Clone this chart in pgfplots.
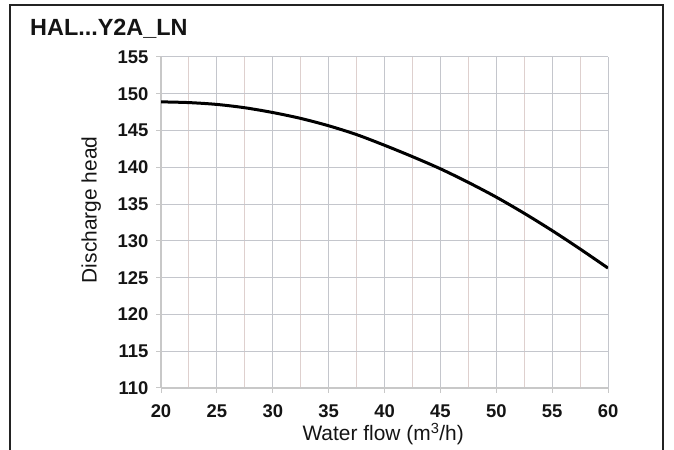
\documentclass[border=0pt]{standalone}
\usepackage{fontspec}
\setmainfont{Liberation Sans}
\usepackage{pgfplots}
\pgfplotsset{compat=1.18}
\definecolor{clrFrame}{RGB}{35,35,35}
\definecolor{clrGridMaj}{RGB}{196,198,204}
\definecolor{clrGridMin}{RGB}{222,208,206}
\definecolor{clrAxisLn}{RGB}{200,200,200}
\definecolor{clrTxt}{RGB}{20,20,20}

\pgfplotstableread{
flow head
20.0 148.9
22.5 148.8
25.0 148.55
27.5 148.1
30.0 147.45
32.5 146.65
35.0 145.65
37.5 144.45
40.0 143.0
42.5 141.45
45.0 139.8
47.5 137.95
50.0 135.95
52.5 133.75
55.0 131.4
57.5 128.9
60.0 126.3
}\curvedata

\begin{document}
\begin{tikzpicture}[x=1bp,y=1bp]
\path[use as bounding box] (0,0) rectangle (674,450);
\draw[clrFrame,line width=2bp] (10,0) -- (10,445) -- (663,445) -- (663,0);
\node[anchor=base west,inner sep=0pt,text=clrTxt,
  font=\bfseries\fontsize{23.5}{27}\selectfont] at (30,414) {HAL...Y2A\_LN};
\begin{axis}[
  at={(161bp,62bp)}, anchor=south west,
  width=447bp, height=331bp, scale only axis,
  xmin=20, xmax=60, ymin=110, ymax=155,
  xtick={20,25,...,60}, ytick={110,115,...,155},
  minor x tick num=1,
  xmajorgrids, ymajorgrids, xminorgrids,
  major grid style={clrGridMaj,line width=1bp},
  minor grid style={clrGridMin,line width=1bp},
  axis lines*=left,
  axis line style={clrAxisLn,line width=2bp},
  tick align=outside,
  major tick length=5bp, minor tick length=0pt,
  tick style={clrAxisLn,line width=1bp},
  /pgf/number format/assume math mode=true,
  ticklabel style={font=\bfseries\fontsize{18.5}{21}\selectfont,text=clrTxt},
  yticklabel style={xshift=-4bp},
  xticklabel style={yshift=-8bp},
  xlabel={Water flow (m\textsuperscript{3}/h)},
  ylabel={Discharge head},
  label style={font=\fontsize{21}{25}\selectfont,text=clrTxt},
  xlabel style={at={(axis description cs:0.497,-0.160)},anchor=base},
  ylabel style={at={(axis description cs:-0.144,0.538)},anchor=base},
]
\addplot[black,line width=3bp,smooth,no marks] table[x=flow,y=head] {\curvedata};
\end{axis}
\end{tikzpicture}
\end{document}
